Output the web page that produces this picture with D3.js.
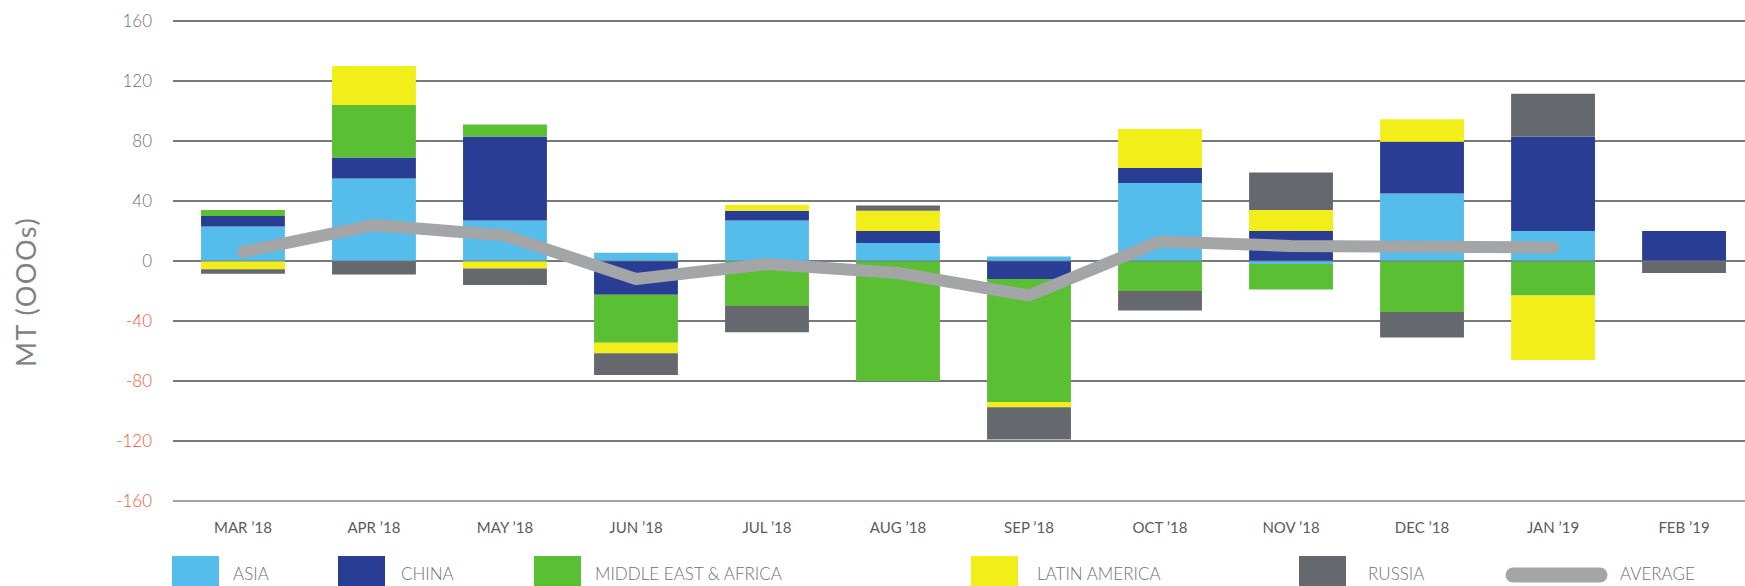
<!DOCTYPE html>
<html>
<head>
<meta charset="utf-8">
<script src="https://cdn.jsdelivr.net/npm/d3@7"></script>
<style>
  body { margin: 0; background: #fff; }
  svg { display: block; font-family: Lato, "Open Sans", sans-serif; font-weight: 300; }
</style>
</head>
<body>
<script>
// months on the x axis
const months = ["MAR ’18", "APR ’18", "MAY ’18", "JUN ’18", "JUL ’18", "AUG ’18",
                "SEP ’18", "OCT ’18", "NOV ’18", "DEC ’18", "JAN ’19", "FEB ’19"];

// regional series, MT (000s)
const asia   = [23, 55, 27, 5.5, 27, 12, 3, 52, -2, 45, 20, 0];
const china  = [7, 14, 56, -22.5, 6.5, 8, -12, 10, 20, 34.5, 63, 20];
const mea    = [4, 35, 8, -32, -30, -80, -82, -20, -17, -34, -23, 0];
const latam  = [-5.5, 26, -5, -7, 4, 13.5, -3.5, 26, 14, 15, -43, 0];
const russia = [-3, -9, -11, -14.5, -17.5, 3.5, -21.5, -13, 25, -17, 28.5, -8];

// average line (no value for Feb '19)
const average = [6, 24, 17, -12, -2, -8, -23, 13, 10, 9.5, 9];

const yTicks = [160, 120, 80, 40, 0, -40, -80, -120, -160];

const seriesNames = ["ASIA", "CHINA", "MIDDLE EAST & AFRICA", "LATIN AMERICA", "RUSSIA"];
const seriesValues = [asia, china, mea, latam, russia];
const colors = ["#55bdeb", "#2a3d94", "#5bbf33", "#f2ee1a", "#65686c"];

const width = 1745, height = 586;

const table = months.map((m, i) => {
  const row = {month: m};
  seriesNames.forEach((s, j) => row[s] = seriesValues[j][i]);
  return row;
});

const stacked = d3.stack()
  .keys(seriesNames)
  .order(d3.stackOrderNone)
  .offset(d3.stackOffsetDiverging)(table);

const x = d3.scaleBand()
  .domain(months)
  .range([173, 1754])
  .paddingInner(0.36)
  .paddingOuter(0.214);

const y = d3.scaleLinear()
  .domain([-160, 160])
  .range([501, 21]);

const color = d3.scaleOrdinal().domain(seriesNames).range(colors);

const svg = d3.select("body")
  .append("svg")
    .attr("width", width)
    .attr("height", height)
    .attr("viewBox", [0, 0, width, height]);

// gridlines
svg.append("g")
  .selectAll("line")
  .data(yTicks)
  .join("line")
    .attr("x1", 173)
    .attr("x2", width)
    .attr("y1", d => y(d))
    .attr("y2", d => y(d))
    .attr("stroke", d => d === -160 ? "#a3a4a6" : "#77787a")
    .attr("stroke-width", 2);

// y tick labels
svg.append("g")
  .style("font-size", "17px")
  .selectAll("text")
  .data(yTicks)
  .join("text")
    .attr("x", 152)
    .attr("y", d => y(d))
    .attr("dy", "0.36em")
    .attr("text-anchor", "end")
    .attr("fill", d => d < 0 ? "#f05a36" : "#6f7072")
    .text(d => d);

// y title
svg.append("text")
  .attr("transform", "translate(36,292) rotate(-90)")
  .attr("text-anchor", "middle")
  .attr("fill", "#808184")
  .style("font-size", "27px")
  .style("font-weight", 400)
  .style("letter-spacing", "1.5px")
  .text("MT (OOOs)");

// stacked bars
svg.append("g")
  .selectAll("g")
  .data(stacked)
  .join("g")
    .attr("fill", d => color(d.key))
  .selectAll("rect")
  .data(d => d)
  .join("rect")
    .attr("x", d => x(d.data.month))
    .attr("width", x.bandwidth())
    .attr("y", d => y(Math.max(d[0], d[1])))
    .attr("height", d => Math.abs(y(d[0]) - y(d[1])));

// zero line shows faintly across the bars
svg.append("line")
  .attr("x1", 173)
  .attr("x2", width)
  .attr("y1", y(0))
  .attr("y2", y(0))
  .attr("stroke", "#77787a")
  .attr("stroke-opacity", 0.45)
  .attr("stroke-width", 2);

// average line
const line = d3.line()
  .x((d, i) => x(months[i]) + x.bandwidth() / 2)
  .y(d => y(d));

svg.append("path")
  .datum(average)
  .attr("d", line)
  .attr("fill", "none")
  .attr("stroke", "#a4a5a7")
  .attr("stroke-width", 12)
  .attr("stroke-linecap", "round")
  .attr("stroke-linejoin", "round");

// x labels
svg.append("g")
  .style("font-size", "15px")
  .style("font-weight", 400)
  .selectAll("text")
  .data(months)
  .join("text")
    .attr("x", d => x(d) + x.bandwidth() / 2)
    .attr("y", 533)
    .attr("text-anchor", "middle")
    .attr("fill", "#5a5b5d")
    .text(d => d);

// legend
const legendX = [172, 338, 534, 971, 1299];
const legendTextX = [233, 401, 595, 1037, 1368];

const legend = svg.append("g").style("font-size", "17px");

legend.selectAll("rect")
  .data(seriesNames)
  .join("rect")
    .attr("x", (d, i) => legendX[i])
    .attr("y", 556)
    .attr("width", 47)
    .attr("height", 36)
    .attr("fill", d => color(d));

legend.selectAll("text.series")
  .data(seriesNames)
  .join("text")
    .attr("class", "series")
    .attr("x", (d, i) => legendTextX[i])
    .attr("y", 580)
    .attr("fill", "#6f7072")
    .text(d => d);

legend.append("line")
  .attr("x1", 1513)
  .attr("x2", 1600)
  .attr("y1", 575)
  .attr("y2", 575)
  .attr("stroke", "#a4a5a7")
  .attr("stroke-width", 15)
  .attr("stroke-linecap", "round");

legend.append("text")
  .attr("x", 1620)
  .attr("y", 580)
  .attr("fill", "#6f7072")
  .text("AVERAGE");
</script>
</body>
</html>
